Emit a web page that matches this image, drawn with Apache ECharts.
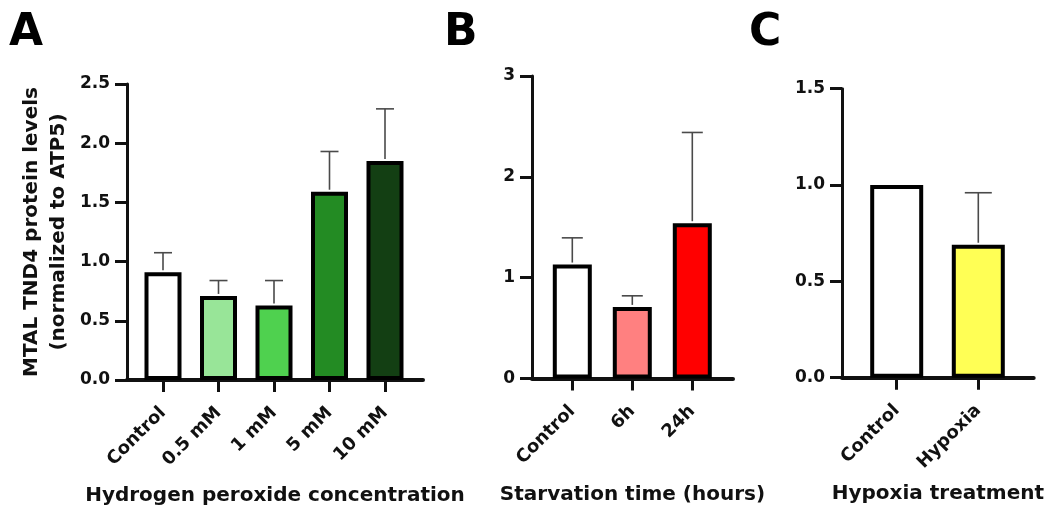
<!DOCTYPE html>
<html>
<head>
<meta charset="utf-8">
<script src="https://cdn.jsdelivr.net/npm/echarts@6/dist/echarts.min.js"></script>
<style>
  html, body { margin: 0; padding: 0; background: #ffffff; }
  #chart { width: 1047px; height: 511px; }
</style>
</head>
<body>
<div id="chart"></div>
<script>
// ---- Data ----
const catsA = ['Control', '0.5 mM', '1 mM', '5 mM', '10 mM'];
const meanA = [0.91, 0.71, 0.63, 1.59, 1.85];
const errA  = [0.165, 0.13, 0.21, 0.34, 0.44];
const ticksA = [0, 0.5, 1.0, 1.5, 2.0, 2.5];

const catsB = ['Control', '6h', '24h'];
const meanB = [1.13, 0.71, 1.54];
const errB  = [0.265, 0.11, 0.9];
const ticksB = [0, 1, 2, 3];

const catsC = ['Control', 'Hypoxia'];
const meanC = [1.0, 0.69];
const errC  = [0, 0.27];
const ticksC = [0, 0.5, 1.0, 1.5];

const yTitle = 'MTAL TND4 protein levels\n(normalized to ATP5)';
const xTitleA = 'Hydrogen peroxide concentration';
const xTitleB = 'Starvation time (hours)';
const xTitleC = 'Hypoxia treatment';

// ---- Styles ----
const colorsA = ['#ffffff', '#98e598', '#4fd14f', '#238b23', '#133f13'];
const colorsB = ['#ffffff', '#ff8080', '#ff0000'];
const colorsC = ['#ffffff', '#ffff55'];
const FONT = 'DejaVu Sans';
const INK = '#111111';

const chart = echarts.init(document.getElementById('chart'), null, { renderer: 'canvas' });

function axisGridX(gridIndex, name, gap) {
  return {
    gridIndex, type: 'value', min: 0, max: 1,
    axisLine: { show: true, onZero: false, lineStyle: { color: INK, width: 4 } },
    axisTick: { show: false }, axisLabel: { show: false }, splitLine: { show: false },
    name, nameLocation: 'middle', nameGap: gap,
    nameTextStyle: { fontFamily: FONT, fontWeight: 'bold', fontSize: 20, color: INK }
  };
}
function axisGridY(gridIndex, ticks, decimals, extra) {
  return Object.assign({
    gridIndex, type: 'value', min: ticks[0], max: ticks[ticks.length - 1],
    interval: ticks[1] - ticks[0],
    axisLine: { show: true, lineStyle: { color: INK, width: 3 } },
    axisTick: { show: true, length: 12, lineStyle: { color: INK, width: 3 } },
    axisLabel: { margin: 17, fontFamily: FONT, fontWeight: 'bold', fontSize: 17, color: INK,
      formatter: v => v.toFixed(decimals) },
    splitLine: { show: false }
  }, extra || {});
}
function barGridX(gridIndex, cats) {
  return {
    gridIndex, type: 'category', data: cats,
    axisLine: { show: false },
    axisTick: { show: true, alignWithLabel: true, length: 12, lineStyle: { color: INK, width: 3 } },
    axisLabel: { rotate: 45, margin: 30, interval: 0, fontFamily: FONT, fontWeight: 'bold', fontSize: 18, color: INK }
  };
}
function barGridY(gridIndex, ticks) {
  return { gridIndex, type: 'value', min: ticks[0], max: ticks[ticks.length - 1], show: false, splitLine: { show: false } };
}
function barSeries(idx, means, colors, width) {
  return {
    type: 'bar', xAxisIndex: idx, yAxisIndex: idx, barWidth: width, z: 2,
    data: means.map((v, i) => ({ value: v, itemStyle: { color: colors[i] } })),
    itemStyle: { borderColor: '#000000', borderWidth: 4 },
    silent: true
  };
}
function errSeries(idx, means, errs, capW) {
  return {
    type: 'custom', xAxisIndex: idx, yAxisIndex: idx, z: 3, silent: true,
    data: means.map((m, i) => [i, m, m + errs[i]]),
    encode: { x: 0, y: [1, 2] },
    renderItem: function (params, api) {
      const lo = api.coord([api.value(0), api.value(1)]);
      const hi = api.coord([api.value(0), api.value(2)]);
      if (api.value(2) <= api.value(1)) return null;
      const style = { stroke: '#4a4a4a', lineWidth: 1.6 };
      return {
        type: 'group',
        children: [
          { type: 'line', shape: { x1: lo[0], y1: lo[1] - 2, x2: hi[0], y2: hi[1] }, style },
          { type: 'line', shape: { x1: hi[0] - capW / 2, y1: hi[1], x2: hi[0] + capW / 2, y2: hi[1] }, style }
        ]
      };
    }
  };
}

const option = {
  backgroundColor: '#ffffff',
  animation: false,
  title: [
    { text: 'A', left: 9, top: 12, padding: 0, textStyle: { fontFamily: FONT, fontWeight: 'bold', fontSize: 44, color: '#000' } },
    { text: 'B', left: 444, top: 12, padding: 0, textStyle: { fontFamily: FONT, fontWeight: 'bold', fontSize: 44, color: '#000' } },
    { text: 'C', left: 749, top: 12, padding: 0, textStyle: { fontFamily: FONT, fontWeight: 'bold', fontSize: 44, color: '#000' } }
  ],
  grid: [
    { left: 127, width: 296, top: 84, bottom: 131 },
    { left: 135.25, width: 277.5, top: 84, bottom: 131 },
    { left: 532, width: 201, top: 76, bottom: 132.5 },
    { left: 542.3, width: 180, top: 76, bottom: 132.5 },
    { left: 842, width: 193, top: 88.7, bottom: 133.3 },
    { left: 855.9, width: 163.2, top: 88.7, bottom: 133.3 }
  ],
  xAxis: [
    axisGridX(0, xTitleA, 106),
    barGridX(1, catsA),
    axisGridX(2, xTitleB, 106),
    barGridX(3, catsB),
    axisGridX(4, xTitleC, 106),
    barGridX(5, catsC)
  ],
  yAxis: [
    axisGridY(0, ticksA, 1, {
      name: yTitle, nameLocation: 'middle', nameGap: 55, nameRotate: 90,
      nameTextStyle: { fontFamily: FONT, fontWeight: 'bold', fontSize: 20, color: INK, lineHeight: 27, align: 'center' }
    }),
    barGridY(1, ticksA),
    axisGridY(2, ticksB, 0),
    barGridY(3, ticksB),
    axisGridY(4, ticksC, 1),
    barGridY(5, ticksC)
  ],
  series: [
    barSeries(1, meanA, colorsA, 37),
    errSeries(1, meanA, errA, 18),
    barSeries(3, meanB, colorsB, 39),
    errSeries(3, meanB, errB, 21),
    barSeries(5, meanC, colorsC, 53),
    errSeries(5, meanC, errC, 27)
  ]
};
chart.setOption(option);
</script>
</body>
</html>
